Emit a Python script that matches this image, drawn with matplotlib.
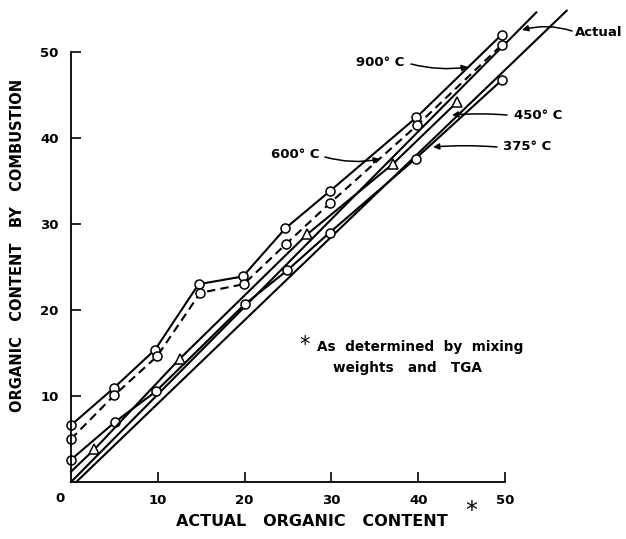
import numpy as np
import matplotlib
matplotlib.use("Agg")
import matplotlib.pyplot as plt

W, H = 626, 539

# series (x = actual %, y = by combustion %)
x900 = [0, 4.9, 9.7, 14.7, 19.8, 24.7, 29.8, 39.8, 49.6]
y900 = [6.6, 10.9, 15.4, 23.0, 23.9, 29.5, 33.8, 42.4, 52.0]

x600 = [0, 5.0, 9.9, 14.9, 19.9, 24.8, 29.8, 39.9, 49.6]
y600 = [5.0, 10.1, 14.6, 22.0, 23.0, 27.7, 32.4, 41.5, 50.8]

x450 = [0, 2.7, 12.5, 27.2, 37.1, 44.5]
y450 = [1.2, 3.8, 14.3, 28.8, 37.0, 44.2]

x375 = [0, 5.1, 9.8, 20.0, 24.9, 29.8, 39.7, 49.6]
y375 = [2.6, 7.0, 10.55, 20.65, 24.6, 29.0, 37.6, 46.7]

x_actual = [0, 53.6]
y_actual = [0, 54.6]

x_fit = [0.6, 57.1]
y_fit = [0, 54.8]

ticks = [10, 20, 30, 40, 50]

fig = plt.figure(figsize=(W / 100, H / 100), dpi=100)
ax = fig.add_axes([71 / W, 57 / H, 434 / W, 430 / H])
ax.set_xlim(0, 50)
ax.set_ylim(0, 50)

lw = 1.5
mk = dict(marker='o', ms=6.5, mfc='white', mec='black', mew=1.1)

ax.plot(x_actual, y_actual, color='black', lw=lw, clip_on=False)
ax.plot(x_fit, y_fit, color='black', lw=lw, clip_on=False)
ax.plot(x900, y900, color='black', lw=lw, clip_on=False, **mk)
ax.plot(x600, y600, color='black', lw=lw, ls=(0, (4, 2.5)), clip_on=False, **mk)
ax.plot(x375, y375, color='black', lw=lw, clip_on=False, **mk)
ax.plot(x450, y450, color='black', lw=lw, marker='^', ms=7, mfc='white',
        mec='black', mew=1.1, markevery=list(range(1, len(x450))), clip_on=False)

for s in ['top', 'right']:
    ax.spines[s].set_visible(False)
for s in ['left', 'bottom']:
    ax.spines[s].set_linewidth(1.3)

ax.set_xticks(ticks)
ax.set_yticks(ticks)
ax.tick_params(direction='in', length=7, width=1.2, labelsize=9.5, pad=9)
for lab in ax.get_xticklabels() + ax.get_yticklabels():
    lab.set_fontweight('bold')
fig.text(60 / W, 1 - 499 / H, '0', fontsize=9.5, fontweight='bold',
         ha='center', va='center')

fig.text(312 / W, 1 - 521 / H, 'ACTUAL   ORGANIC   CONTENT', fontsize=11.5,
         fontweight='bold', ha='center', va='center')
fig.text(471 / W, 1 - 511 / H, '*', fontsize=17, ha='center', va='center')
fig.text(18 / W, 1 - 245 / H, 'ORGANIC   CONTENT   BY   COMBUSTION',
         fontsize=10.5, fontweight='bold', rotation=90, ha='center', va='center')

fig.text(305 / W, 1 - 345 / H, '*', fontsize=15, ha='center', va='center')
fig.text(420 / W, 1 - 347 / H, 'As  determined  by  mixing', fontsize=9.8,
         fontweight='bold', ha='center', va='center')
fig.text(407 / W, 1 - 368 / H, 'weights   and   TGA', fontsize=9.8,
         fontweight='bold', ha='center', va='center')


def px(x, y):
    return (x / W, 1 - y / H)


# label, text position, arrow start, arrow tip, ha, curvature
labels = [
    ('Actual', (575, 32), (572, 31), (522, 30), 'left', 0.15),
    ('900° C', (380, 63), (411, 64), (468, 67), 'center', 0.1),
    ('600° C', (295, 155), (325, 157), (380, 159), 'center', 0.12),
    ('450° C', (538, 115), (507, 115), (452, 115), 'center', 0.04),
    ('375° C', (527, 147), (497, 147), (433, 147), 'center', 0.04),
]
for txt, tpos, spos, apos, ha, rad in labels:
    fig.text(*px(*tpos), txt, fontsize=9.5, fontweight='bold', ha=ha, va='center')
    ax.annotate('', xy=px(*apos), xycoords='figure fraction',
                xytext=px(*spos), textcoords='figure fraction',
                arrowprops=dict(arrowstyle='-|>', color='black', lw=1.1,
                                mutation_scale=9, shrinkA=0, shrinkB=0,
                                connectionstyle='arc3,rad=%s' % rad))

fig.savefig('out.png', dpi=100)
